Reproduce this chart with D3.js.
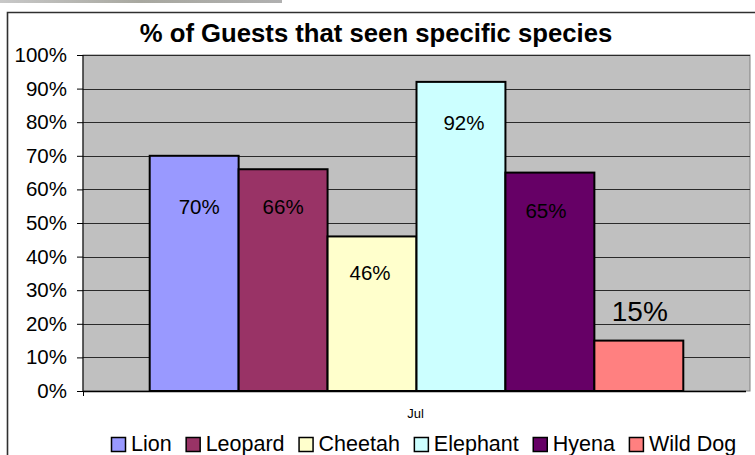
<!DOCTYPE html>
<html>
<head>
<meta charset="utf-8">
<script src="https://cdn.jsdelivr.net/npm/d3@7"></script>
<style>
  body { margin: 0; background: #fff; }
  svg { display: block; font-family: Arial, "Liberation Sans", sans-serif; }
</style>
</head>
<body>
<div id="chart"></div>
<script>
// data
var species = ["Lion", "Leopard", "Cheetah", "Elephant", "Hyena", "Wild Dog"];
var seen = [0.70, 0.66, 0.46, 0.92, 0.65, 0.15];
var labels = ["70%", "66%", "46%", "92%", "65%", "15%"];
var colors = ["#9999ff", "#993366", "#ffffcc", "#ccffff", "#660066", "#ff8080"];
var yTicks = [0, 0.1, 0.2, 0.3, 0.4, 0.5, 0.6, 0.7, 0.8, 0.9, 1.0];
var category = "Jul";

// label nudges (px), as placed in the original
var labelDx = [5, 0, -2, 3, -4, 1];
var labelDy = [58, 45, 44, 48, 45, -20];

var width = 755, height = 455;
var plot = {left: 83, top: 55, right: 750, bottom: 391};

var svg = d3.select("#chart")
    .append("svg")
    .attr("width", width)
    .attr("height", height);

// faded strip at the very top
var grad = svg.append("defs").append("linearGradient")
    .attr("id", "strip");
grad.append("stop").attr("offset", "0%").attr("stop-color", "#c8c8c8");
grad.append("stop").attr("offset", "50%").attr("stop-color", "#a8a8a0");
grad.append("stop").attr("offset", "100%").attr("stop-color", "#b0b0b0");
svg.append("rect")
    .attr("x", 0).attr("y", 0)
    .attr("width", 282).attr("height", 3)
    .attr("fill", "url(#strip)");

// chart frame
svg.append("path")
    .attr("d", "M7.5,455 V12.5 H755")
    .attr("fill", "none")
    .attr("stroke", "#303030")
    .attr("stroke-width", 1.6);

// scales
var x = d3.scaleBand()
    .domain(species)
    .range([plot.left, plot.right])
    .paddingInner(0)
    .paddingOuter(0.75);

var y = d3.scaleLinear()
    .domain([0, 1])
    .range([plot.bottom, plot.top]);

// plot background
svg.append("rect")
    .attr("x", plot.left)
    .attr("y", plot.top)
    .attr("width", plot.right - plot.left)
    .attr("height", plot.bottom - plot.top)
    .attr("fill", "#c0c0c0")
    .attr("stroke", "#808080")
    .attr("stroke-width", 1);

// gridlines
svg.append("g")
    .selectAll("line")
    .data(yTicks.filter(d => d > 0))
    .join("line")
    .attr("x1", plot.left)
    .attr("x2", plot.right)
    .attr("y1", d => Math.round(y(d)) + 0.5)
    .attr("y2", d => Math.round(y(d)) + 0.5)
    .attr("stroke", "#2a2a2a")
    .attr("stroke-width", 1);

// y axis
var yAxis = d3.axisLeft(y)
    .tickValues(yTicks)
    .tickFormat(d3.format(".0%"))
    .tickSize(6)
    .tickPadding(10);

var gy = svg.append("g")
    .attr("transform", "translate(" + plot.left + ",0)")
    .call(yAxis);
gy.select(".domain").attr("stroke", "#000").attr("d", "M0," + plot.top + "V" + plot.bottom);
gy.selectAll(".tick line").attr("stroke", "#000");
gy.selectAll(".tick text")
    .attr("fill", "#000")
    .style("font-size", "20.5px")
    .style("font-family", "Arial, 'Liberation Sans', sans-serif");

// bars
svg.append("g")
    .selectAll("rect")
    .data(species)
    .join("rect")
    .attr("x", d => x(d))
    .attr("y", (d, i) => y(seen[i]))
    .attr("width", x.bandwidth())
    .attr("height", (d, i) => y(0) - y(seen[i]))
    .attr("fill", (d, i) => colors[i])
    .attr("stroke", "#000")
    .attr("stroke-width", 2);

// x axis line
svg.append("line")
    .attr("x1", plot.left).attr("x2", plot.right - 4)
    .attr("y1", plot.bottom + 0.5).attr("y2", plot.bottom + 0.5)
    .attr("stroke", "#000")
    .attr("stroke-width", 1.5);
svg.append("line")
    .attr("x1", plot.left + 0.5).attr("x2", plot.left + 0.5)
    .attr("y1", plot.bottom).attr("y2", plot.bottom + 5)
    .attr("stroke", "#000");

// category label
svg.append("text")
    .attr("x", (plot.left + plot.right) / 2 - 1)
    .attr("y", 418)
    .attr("text-anchor", "middle")
    .style("font-size", "13px")
    .text(category);

// data labels
svg.append("g")
    .selectAll("text")
    .data(species)
    .join("text")
    .attr("x", (d, i) => x(d) + x.bandwidth() / 2 + labelDx[i])
    .attr("y", (d, i) => y(seen[i]) + labelDy[i])
    .attr("text-anchor", "middle")
    .style("font-size", (d, i) => i === 5 ? "28px" : "20.5px")
    .attr("fill", "#000")
    .text((d, i) => labels[i]);

// title
svg.append("text")
    .attr("x", 376)
    .attr("y", 42)
    .attr("text-anchor", "middle")
    .style("font-size", "25.7px")
    .style("font-weight", "bold")
    .text("% of Guests that seen specific species");

// legend
var legend = svg.append("g");
var lx = 111;
species.forEach(function (s, i) {
    legend.append("rect")
        .attr("x", lx + 0.5)
        .attr("y", 437.5)
        .attr("width", 14)
        .attr("height", 14)
        .attr("fill", colors[i])
        .attr("stroke", "#000")
        .attr("stroke-width", 1.5);
    var t = legend.append("text")
        .attr("x", lx + 20)
        .attr("y", 451)
        .style("font-size", "21.5px")
        .text(s);
    lx += 20 + t.node().getComputedTextLength() + 14;
});
</script>
</body>
</html>
